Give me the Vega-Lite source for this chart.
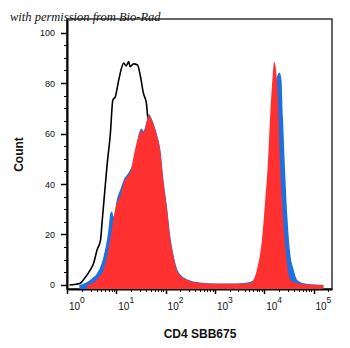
{
  "$schema": "https://vega.github.io/schema/vega-lite/v6.json",
  "autosize": {"type": "none"},
  "padding": {"left": 67, "top": 19, "right": 18, "bottom": 59},
  "width": 265,
  "height": 270,
  "background": "white",
  "title": {
    "text": "with permission from Bio-Rad",
    "anchor": "start",
    "frame": "group",
    "dx": -57,
    "dy": 15,
    "offset": 1,
    "baseline": "alphabetic",
    "font": "Liberation Serif",
    "fontStyle": "italic",
    "fontSize": 12.5,
    "fontWeight": "normal",
    "color": "#111111"
  },
  "config": {
    "view": {"stroke": "#333333", "strokeWidth": 1.5}
  },
  "datasets": {
    "unstained": [
      {"fluorescence": 1.122, "count": 0},
      {"fluorescence": 1.413, "count": 0.2},
      {"fluorescence": 1.862, "count": 0.7},
      {"fluorescence": 2.138, "count": 2.0},
      {"fluorescence": 2.951, "count": 5.9},
      {"fluorescence": 3.467, "count": 8.6},
      {"fluorescence": 4.074, "count": 13.9},
      {"fluorescence": 4.786, "count": 17.8},
      {"fluorescence": 5.129, "count": 24.5},
      {"fluorescence": 6.026, "count": 40.3},
      {"fluorescence": 6.457, "count": 46.9},
      {"fluorescence": 7.586, "count": 60.1},
      {"fluorescence": 8.511, "count": 73.3},
      {"fluorescence": 9.55, "count": 74.6},
      {"fluorescence": 11.22, "count": 81.3},
      {"fluorescence": 14.13, "count": 87.9},
      {"fluorescence": 15.85, "count": 86.8},
      {"fluorescence": 17.78, "count": 88.5},
      {"fluorescence": 19.05, "count": 86.5},
      {"fluorescence": 22.39, "count": 87.6},
      {"fluorescence": 26.92, "count": 87.2},
      {"fluorescence": 30.9, "count": 82.6},
      {"fluorescence": 35.48, "count": 76},
      {"fluorescence": 40.74, "count": 72.1},
      {"fluorescence": 42.66, "count": 68},
      {"fluorescence": 50.12, "count": 57},
      {"fluorescence": 63.1, "count": 43},
      {"fluorescence": 79.43, "count": 27},
      {"fluorescence": 100, "count": 13},
      {"fluorescence": 125.9, "count": 5.5},
      {"fluorescence": 158.5, "count": 2.2},
      {"fluorescence": 223.9, "count": 0.7},
      {"fluorescence": 398.1, "count": 0.3},
      {"fluorescence": 1000, "count": 0}
    ],
    "stained_blue": [
      {"fluorescence": 1.778, "count": 0},
      {"fluorescence": 2.344, "count": 0.8},
      {"fluorescence": 3.162, "count": 2.5},
      {"fluorescence": 4.074, "count": 4.6},
      {"fluorescence": 5.495, "count": 11.2},
      {"fluorescence": 6.918, "count": 21.8},
      {"fluorescence": 7.586, "count": 28.4},
      {"fluorescence": 8.128, "count": 29.1},
      {"fluorescence": 8.913, "count": 27.1},
      {"fluorescence": 10.23, "count": 33.7},
      {"fluorescence": 12.02, "count": 37.7},
      {"fluorescence": 14.13, "count": 41.6},
      {"fluorescence": 19.05, "count": 45.6},
      {"fluorescence": 24.55, "count": 51.5},
      {"fluorescence": 28.18, "count": 59.5},
      {"fluorescence": 33.11, "count": 62},
      {"fluorescence": 35.48, "count": 61},
      {"fluorescence": 40.74, "count": 64.5},
      {"fluorescence": 45.71, "count": 67.8},
      {"fluorescence": 52.48, "count": 65.8},
      {"fluorescence": 67.61, "count": 59.2},
      {"fluorescence": 77.62, "count": 54},
      {"fluorescence": 91.2, "count": 41},
      {"fluorescence": 107.2, "count": 30.5},
      {"fluorescence": 123, "count": 20},
      {"fluorescence": 144.5, "count": 12},
      {"fluorescence": 182, "count": 5.2},
      {"fluorescence": 269.2, "count": 2.3},
      {"fluorescence": 501.2, "count": 1},
      {"fluorescence": 1000, "count": 0.6},
      {"fluorescence": 1995, "count": 0.6},
      {"fluorescence": 3802, "count": 0.8},
      {"fluorescence": 5623, "count": 1.5},
      {"fluorescence": 7943, "count": 5},
      {"fluorescence": 10000, "count": 15},
      {"fluorescence": 11220, "count": 28},
      {"fluorescence": 12590, "count": 42},
      {"fluorescence": 14130, "count": 58},
      {"fluorescence": 15850, "count": 70},
      {"fluorescence": 18200, "count": 82.6},
      {"fluorescence": 20420, "count": 84.2},
      {"fluorescence": 22390, "count": 81.3},
      {"fluorescence": 23990, "count": 66.7},
      {"fluorescence": 26300, "count": 46.9},
      {"fluorescence": 29510, "count": 27.1},
      {"fluorescence": 33110, "count": 13.9},
      {"fluorescence": 39810, "count": 5.9},
      {"fluorescence": 46770, "count": 2},
      {"fluorescence": 63100, "count": 0.7},
      {"fluorescence": 100000, "count": 0.2},
      {"fluorescence": 158500, "count": 0}
    ],
    "stained_red": [
      {"fluorescence": 2.512, "count": 0},
      {"fluorescence": 3.236, "count": 0.7},
      {"fluorescence": 4.169, "count": 2.5},
      {"fluorescence": 5.495, "count": 5.9},
      {"fluorescence": 6.918, "count": 13.9},
      {"fluorescence": 8.128, "count": 21.8},
      {"fluorescence": 8.913, "count": 27.1},
      {"fluorescence": 10.23, "count": 32.4},
      {"fluorescence": 12.02, "count": 35},
      {"fluorescence": 14.13, "count": 40.3},
      {"fluorescence": 16.6, "count": 42.9},
      {"fluorescence": 19.05, "count": 44.3},
      {"fluorescence": 22.39, "count": 50.9},
      {"fluorescence": 28.18, "count": 58.8},
      {"fluorescence": 33.11, "count": 61.4},
      {"fluorescence": 35.48, "count": 60.1},
      {"fluorescence": 40.74, "count": 64.1},
      {"fluorescence": 45.71, "count": 67.4},
      {"fluorescence": 52.48, "count": 65.4},
      {"fluorescence": 67.61, "count": 58.8},
      {"fluorescence": 77.62, "count": 53.5},
      {"fluorescence": 91.2, "count": 40.3},
      {"fluorescence": 107.2, "count": 29.7},
      {"fluorescence": 123, "count": 19.1},
      {"fluorescence": 144.5, "count": 11.2},
      {"fluorescence": 182, "count": 4.6},
      {"fluorescence": 269.2, "count": 2},
      {"fluorescence": 501.2, "count": 0.8},
      {"fluorescence": 1000, "count": 0.5},
      {"fluorescence": 1995, "count": 0.5},
      {"fluorescence": 3981, "count": 0.6},
      {"fluorescence": 5248, "count": 0.7},
      {"fluorescence": 7079, "count": 5.9},
      {"fluorescence": 9120, "count": 19.1},
      {"fluorescence": 10470, "count": 33.7},
      {"fluorescence": 11750, "count": 46.9},
      {"fluorescence": 13180, "count": 66.7},
      {"fluorescence": 14790, "count": 82.6},
      {"fluorescence": 15850, "count": 88.5},
      {"fluorescence": 17380, "count": 85.2},
      {"fluorescence": 19050, "count": 73.3},
      {"fluorescence": 20420, "count": 53.5},
      {"fluorescence": 22910, "count": 33.7},
      {"fluorescence": 25700, "count": 19.1},
      {"fluorescence": 28840, "count": 8.6},
      {"fluorescence": 33880, "count": 2},
      {"fluorescence": 46770, "count": 0.7},
      {"fluorescence": 79430, "count": 0.2},
      {"fluorescence": 158500, "count": 0}
    ]
  },
  "layer": [
    {
      "data": {"name": "unstained"},
      "mark": {"type": "line", "color": "black", "strokeWidth": 1.6, "clip": true, "interpolate": "monotone"},
      "encoding": {
        "x": {
          "field": "fluorescence",
          "type": "quantitative",
          "scale": {"type": "log", "domain": [1, 237000], "nice": false},
          "axis": {
            "orient": "bottom",
            "values": [1, 10, 100, 1000, 10000, 100000],
            "labelExpr": "(datum.value == 1 ? '\u00a0\u00a0' : '') + '10'",
            "labelAlign": "left",
            "labelOffset": 1.5,
            "labelBaseline": "alphabetic",
            "labelPadding": 16.3,
            "labelFont": "Liberation Sans",
            "labelFontSize": 10,
            "labelColor": "#111111",
            "labelFlush": false,
            "labelOverlap": false,
            "tickSize": 4.5,
            "tickWidth": 1.5,
            "tickColor": "black",
            "domainColor": "black",
            "domainWidth": 2,
            "grid": false,
            "title": "CD4 SBB675",
            "titleFont": "Liberation Sans",
            "titleFontSize": 12,
            "titleFontWeight": "bold",
            "titleColor": "#111111",
            "titlePadding": 17
          }
        },
        "y": {
          "field": "count",
          "type": "quantitative",
          "scale": {"domain": [-1.6, 105.4], "nice": false, "zero": false},
          "axis": {
            "orient": "left",
            "values": [0, 20, 40, 60, 80, 100],
            "labelFont": "Liberation Sans",
            "labelFontSize": 9,
            "labelColor": "#111111",
            "labelPadding": 6,
            "labelBaseline": "middle",
            "tickSize": 6.5,
            "tickWidth": 1.5,
            "tickColor": "black",
            "domainColor": "black",
            "domainWidth": 2,
            "grid": false,
            "title": "Count",
            "titleFont": "Liberation Sans",
            "titleFontSize": 12,
            "titleFontWeight": "bold",
            "titleColor": "#111111",
            "titlePadding": 14
          }
        }
      }
    },
    {
      "data": {"name": "stained_blue"},
      "mark": {"type": "area", "color": "#1c70e0", "opacity": 1, "clip": true, "interpolate": "monotone"},
      "encoding": {
        "x": {
          "field": "fluorescence",
          "type": "quantitative",
          "axis": {
            "orient": "bottom",
            "values": [2, 3, 4, 5, 6, 7, 8, 9, 20, 30, 40, 50, 60, 70, 80, 90, 200, 300, 400, 500, 600, 700, 800, 900, 2000, 3000, 4000, 5000, 6000, 7000, 8000, 9000, 20000, 30000, 40000, 50000, 60000, 70000, 80000, 90000, 200000],
            "labels": false,
            "tickSize": 2.5,
            "tickWidth": 1,
            "tickColor": "black",
            "domain": false,
            "grid": false,
            "title": null
          }
        },
        "y": {
          "field": "count",
          "type": "quantitative",
          "axis": {
            "orient": "left",
            "values": [5, 10, 15, 25, 30, 35, 45, 50, 55, 65, 70, 75, 85, 90, 95],
            "labels": false,
            "tickSize": 3.5,
            "tickWidth": 1,
            "tickColor": "black",
            "domain": false,
            "grid": false,
            "title": null
          }
        },
        "y2": {"datum": -1.6}
      }
    },
    {
      "data": {"name": "stained_red"},
      "mark": {"type": "area", "color": "#ff3030", "opacity": 1, "clip": true, "interpolate": "monotone"},
      "encoding": {
        "x": {
          "field": "fluorescence",
          "type": "quantitative",
          "axis": {
            "orient": "bottom",
            "values": [1, 10, 100, 1000, 10000, 100000],
            "labelExpr": "(datum.value == 1 ? '\u00a0\u00a0' : '') + ['0','1','2','3','4','5'][round(log(datum.value) / LN10)]",
            "labelAlign": "left",
            "labelOffset": 12.6,
            "labelBaseline": "alphabetic",
            "labelPadding": 13.2,
            "labelFont": "Liberation Sans",
            "labelFontSize": 8.5,
            "labelColor": "#111111",
            "labelFlush": false,
            "labelOverlap": false,
            "ticks": false,
            "tickSize": 0,
            "domain": false,
            "grid": false,
            "title": null
          }
        },
        "y": {"field": "count", "type": "quantitative", "axis": null},
        "y2": {"datum": -1.6}
      }
    }
  ],
  "resolve": {"axis": {"x": "independent", "y": "independent"}}
}
